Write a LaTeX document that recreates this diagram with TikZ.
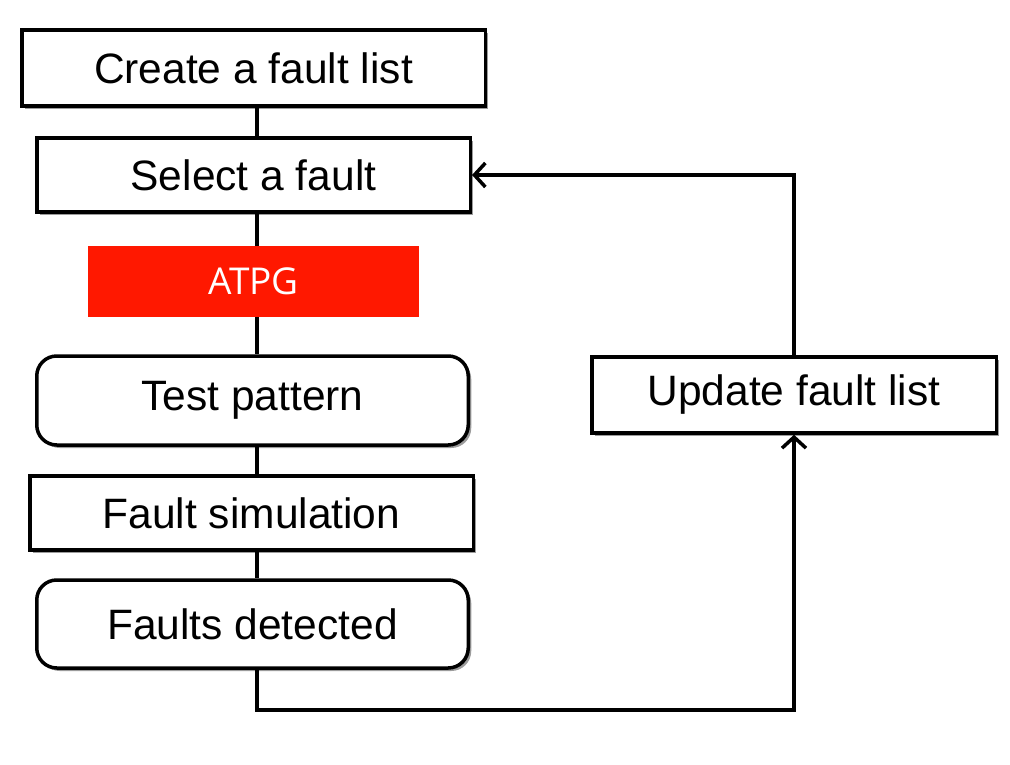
\documentclass[tikz,border=0pt]{standalone}
\usepackage{fontspec}
\setmainfont{Liberation Sans}
\newfontfamily\atpgfont{Open Sans}
\usetikzlibrary{arrows.meta,shadows}
\definecolor{atpgred}{RGB}{255,24,0}
\tikzset{
  box/.style={draw=black, line width=3.5pt, fill=white, inner sep=0pt,
    font=\fontsize{42.5}{48}\selectfont,
    drop shadow={shadow xshift=3pt, shadow yshift=-3pt, opacity=0.55, fill=black!70}},
  rbox/.style={box, rounded corners=20pt},
  redbox/.style={fill=atpgred, draw=none, inner sep=0pt, text=white,
    font=\atpgfont\fontsize{37}{40}\selectfont},
  conn/.style={draw=black, line width=3.5pt},
  arr/.style={conn, -{Straight Barb[length=11pt,width=24pt,line width=3.5pt]}}
}
\begin{document}
\begin{tikzpicture}[x=1pt,y=-1pt]
\useasboundingbox[fill=white] (0,0) rectangle (1010,765);
\node[box, minimum width=463.5pt, minimum height=76pt] (n1) at (253.5,68) {Create a fault list};
\node[box, minimum width=433.5pt, minimum height=74pt] (n2) at (253.5,175) {Select a fault};
\node[redbox, minimum width=331pt, minimum height=71pt] (n3) at (253.5,281.5) {ATPG};
\node[rbox, minimum width=431.5pt, minimum height=89pt] (n4) at (252.5,400.5) {Test pattern};
\node[box, minimum width=443.5pt, minimum height=74pt] (n5) at (251.5,513) {Fault simulation};
\node[rbox, minimum width=431.5pt, minimum height=88pt] (n6) at (252.5,624) {Faults detected};
\node[box, minimum width=404.5pt, minimum height=76pt] (n7) at (794,395) {Update fault list};
\coordinate (col) at (257,0);
\coordinate (c1) at (794,710);
\draw[conn] (n1.south -| col) -- (n2.north -| col);
\draw[conn] (n2.south -| col) -- (n3.north -| col);
\draw[conn] (n3.south -| col) -- (n4.north -| col);
\draw[conn] (n4.south -| col) -- (n5.north -| col);
\draw[conn] (n5.south -| col) -- (n6.north -| col);
\draw[arr] (n6.south -| col) |- (c1) -- (n7.south);
\draw[arr] (n7.north) |- (n2.east);
\end{tikzpicture}
\end{document}
